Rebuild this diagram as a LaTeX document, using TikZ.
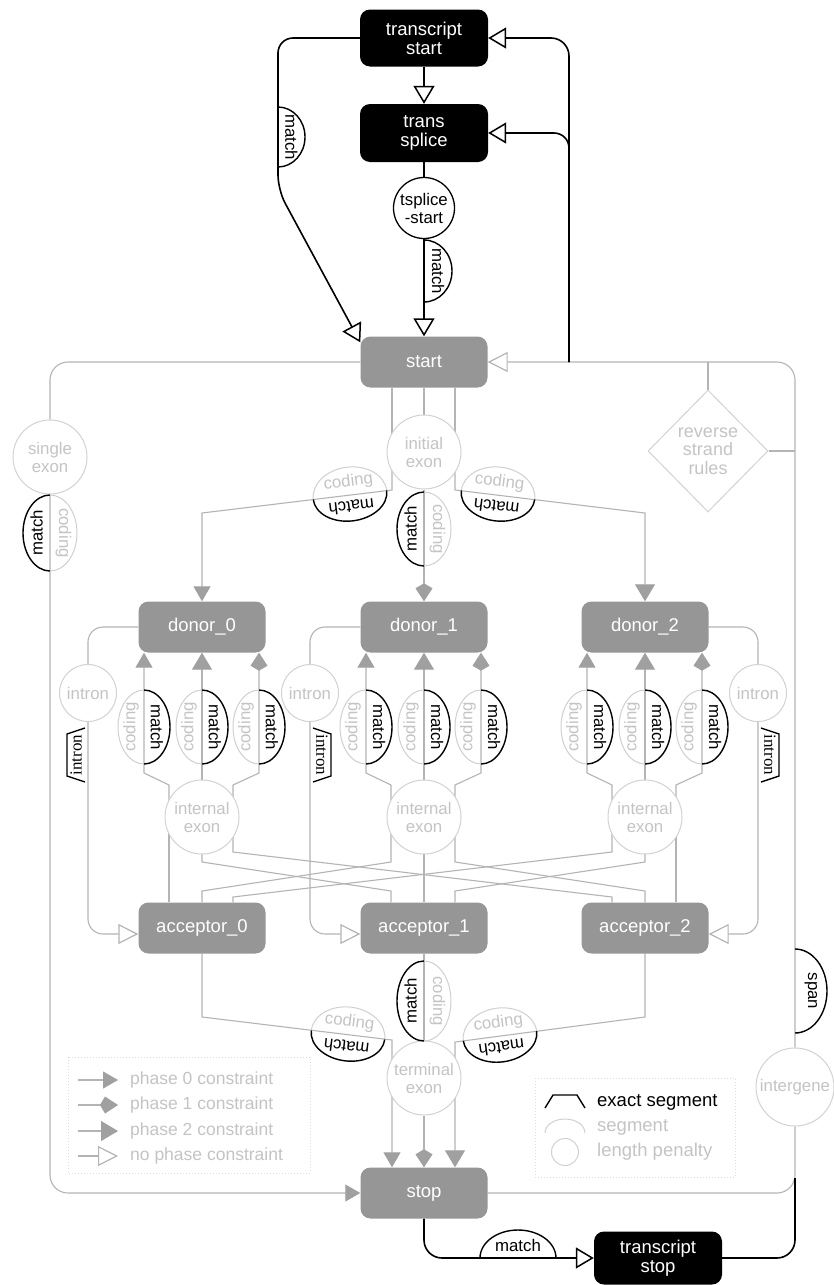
\documentclass[tikz,border=0pt]{standalone}
\usepackage{fontspec}
\setmainfont{Liberation Sans}
\newfontfamily\exfont{Liberation Serif}
\usetikzlibrary{arrows.meta,shapes.geometric,calc}
\pgfdeclarelayer{bg}
\pgfsetlayers{bg,main}
\definecolor{boxgray}{HTML}{969696}
\definecolor{linegray}{HTML}{B4B4B4}
\definecolor{circgray}{HTML}{D2D2D2}
\definecolor{textgray}{HTML}{C4C4C4}
\definecolor{codgray}{HTML}{D0D0D0}
\definecolor{arrowgray}{HTML}{A0A0A0}
\definecolor{leggray}{HTML}{DCDCDC}
\newcommand\boxfont{\fontsize{18.5pt}{19pt}\selectfont}
\newcommand\circfont{\fontsize{16.8pt}{18pt}\selectfont}
\newcommand\diafont{\fontsize{18pt}{18.5pt}\selectfont}
\newcommand\segfont{\fontsize{16.8pt}{17pt}\selectfont}
\newcommand\legfont{\fontsize{17.5pt}{18pt}\selectfont}
\newcommand\exsfont{\exfont\fontsize{17pt}{17pt}\selectfont}
\tikzset{
  phA/.tip={Triangle[length=15pt,width=17pt,color=arrowgray]},
  phB/.tip={Kite[length=18pt,width=17pt,inset=5pt,color=arrowgray]},
  phC/.tip={Triangle[length=17pt,width=20pt,color=arrowgray]},
  opg/.tip={Triangle[open,length=20pt,width=20pt,color=linegray,line width=1.2pt]},
  opb/.tip={Triangle[open,length=18pt,width=21pt,color=black,line width=1.5pt]},
  gl/.style={draw=linegray,line width=1.1pt},
  bl/.style={draw=black,line width=1.6pt},
  graybox/.style={rectangle,rounded corners=10pt,fill=boxgray,text=white,
    minimum width=127pt,minimum height=51pt,inner sep=0pt,font=\boxfont,align=center},
  blackbox/.style={graybox,fill=black,minimum width=128pt,minimum height=57pt},
  gcirc/.style={circle,draw=circgray,line width=1pt,fill=white,text=textgray,
    minimum size=74pt,inner sep=0pt,align=center,font=\circfont},
  matchline/.style={draw=black,line width=1.4pt},
  codline/.style={draw=codgray,line width=1pt},
  matchtext/.style={font=\segfont,text=black,inner sep=0pt},
  codtext/.style={font=\segfont,text=textgray,inner sep=0pt},
  extext/.style={font=\exsfont,text=black,inner sep=0pt},
  legtext/.style={font=\legfont,text=textgray,inner sep=0pt,anchor=west},
}
% arcs: name, x, y, rx, ry, kind, text
\newcommand\arcR[7]{%
  \draw[#6line] (#2,#3-#5) arc[start angle=-90,end angle=90,x radius=#4,y radius=#5];
  \node[#6text,rotate=-90] (#1) at (#2+#4*0.5,#3) {#7};}
\newcommand\arcL[7]{%
  \draw[#6line] (#2,#3+#5) arc[start angle=90,end angle=270,x radius=#4,y radius=#5];
  \node[#6text,rotate=90] (#1) at (#2-#4*0.5,#3) {#7};}
\newcommand\arcU[7]{%
  \draw[#6line] (#2-#4,#3) arc[start angle=180,end angle=360,x radius=#4,y radius=#5];
  \node[#6text] (#1) at (#2,#3-#5*0.46) {#7};}
\newcommand\pairMR[5]{\arcR{#1m}{#2}{#3}{#4}{#5}{match}{match}\arcL{#1c}{#2}{#3}{#4}{#5}{cod}{coding}}
\newcommand\pairML[5]{\arcL{#1m}{#2}{#3}{#4}{#5}{match}{match}\arcR{#1c}{#2}{#3}{#4}{#5}{cod}{coding}}
% tilted horizontal pair: name, x, y, angle
\newcommand\pairH[4]{%
  \begin{scope}[shift={(#2,#3)},rotate=#4]
    \draw[codline] (-37,0) arc[start angle=180,end angle=360,x radius=37,y radius=28];
    \node[codtext,rotate=#4] (#1c) at (0,-13) {coding};
    \draw[matchline] (-37,0) arc[start angle=180,end angle=0,x radius=37,y radius=26];
    \node[matchtext,rotate=#4+180] (#1m) at (0,12) {match};
  \end{scope}}
% exact segments: name, x, y
\newcommand\exR[3]{%
  \draw[matchline] (#2+3,#3-27) -- (#2+21,#3-21) -- (#2+21,#3+21) -- (#2+3,#3+27);
  \node[extext,rotate=-90] (#1) at (#2+12,#3) {intron};}
\newcommand\exL[3]{%
  \draw[matchline] (#2-3,#3-27) -- (#2-21,#3-21) -- (#2-21,#3+21) -- (#2-3,#3+27);
  \node[extext,rotate=90] (#1) at (#2-12,#3) {intron};}

\begin{document}
\begin{tikzpicture}[x=1pt,y=-1pt]
\path[use as bounding box] (0,0) rectangle (833,1285);
\begin{pgfonlayer}{bg}
  \fill[white] (0,0) rectangle (833,1285);
\end{pgfonlayer}

% ---------- nodes ----------
\node[blackbox] (ts) at (424,38) {transcript\\start};
\node[blackbox,minimum height=58pt] (tsp) at (424,133) {trans\\splice};
\node[circle,draw=black,line width=1.3pt,fill=white,minimum size=61pt,inner sep=0pt,
      align=center,font=\circfont] (tss) at (424,208) {tsplice\\-start};
\node[graybox] (start) at (424,362) {start};
\node[gcirc] (se) at (50,457) {single\\exon};
\node[gcirc] (ie) at (424,452) {initial\\exon};
\node[diamond,draw=circgray,line width=1pt,fill=white,minimum width=120pt,minimum height=122pt,
      inner sep=0pt,text=textgray,align=center,font=\diafont] (rs) at (708,451) {reverse\\strand\\rules};
\node[graybox] (d0) at (202,627) {donor\_0};
\node[graybox] (d1) at (424,627) {donor\_1};
\node[graybox] (d2) at (645,627) {donor\_2};
\node[gcirc,minimum size=57pt] (in0) at (88,693) {intron};
\node[gcirc,minimum size=57pt] (in1) at (310,693) {intron};
\node[gcirc,minimum size=57pt] (in2) at (758,693) {intron};
\node[gcirc] (x0) at (202,817) {internal\\exon};
\node[gcirc] (x1) at (424,817) {internal\\exon};
\node[gcirc] (x2) at (645,817) {internal\\exon};
\node[graybox] (a0) at (202,928) {acceptor\_0};
\node[graybox] (a1) at (424,928) {acceptor\_1};
\node[graybox] (a2) at (645,928) {acceptor\_2};
\node[gcirc] (te) at (424,1078) {terminal\\exon};
\node[gcirc,minimum size=78pt] (ig) at (795,1087) {intergene};
\node[graybox] (stop) at (424,1193) {stop};
\node[blackbox,minimum height=53pt] (tst) at (658,1258) {transcript\\stop};
\coordinate (jR) at (569,362);
\coordinate (jB) at (795,1178);

% ---------- connectors ----------
\begin{pgfonlayer}{bg}
  % single exon
  \draw[gl,rounded corners=18pt] (start.west) -| (se.north);
  \draw[gl,rounded corners=18pt,-{phA}] (se.south) |- (stop.west);
  % intergene loop
  \draw[gl,rounded corners=18pt,-{opg}] (ig.north) |- (start.east);
  \draw[gl,rounded corners=18pt] (stop.east) -| (ig.south);
  \draw[gl] (rs.north) -- (rs.north |- start.east);
  \draw[gl] (rs.east) -- (rs.east -| ig.north);
  % start -> initial exon -> donors
  \draw[gl] ([xshift=-32pt]start.south) -- ([xshift=-32pt]ie.center);
  \draw[gl] (start.south) -- (ie.north);
  \draw[gl] ([xshift=31pt]start.south) -- ([xshift=31pt]ie.center);
  \draw[gl,-{phA}] ([xshift=-32pt]ie.center) -- (392,490) -- (202,513) -- (d0.north);
  \draw[gl,-{phB}] (ie.south) -- (d1.north);
  \draw[gl,-{phC}] ([xshift=31pt]ie.center) -- (455,490) -- (645,513) -- (d2.north);
  % internal exons -> donors
  \foreach \i/\cx in {0/202,1/424,2/645}{
    \draw[gl,-{phA}] ([xshift=-33pt]x\i.center) -- (\cx-33,785) -- (\cx-58,773) -- ([xshift=-58pt]d\i.south);
    \draw[gl,-{phC}] (x\i.north) -- (d\i.south);
    \draw[gl,-{phB}] ([xshift=31pt]x\i.center) -- (\cx+31,785) -- (\cx+57,773) -- ([xshift=57pt]d\i.south);
  }
  % acceptors -> internal exons (crossing)
  \foreach \i/\cx/\oi in {0/202/-33,1/424/0,2/645/31}{
    \foreach \j/\ax/\oj in {0/202/-33,1/424/0,2/645/31}{
      \pgfmathtruncatemacro\dd{abs(\i-\j)}
      \pgfmathsetmacro\xe{\cx+(\oj)}
      \pgfmathsetmacro\xa{\ax+(\oi)}
      \pgfmathsetmacro\ye{\dd==2 ? 852 : 862}
      \pgfmathsetmacro\ya{\dd==2 ? 897 : 891}
      \draw[gl] ([xshift=\oj pt]x\i.center) -- (\xe,\ye) -- (\xa,\ya) -- ([xshift=\oi pt]a\j.north);
    }
  }
  % acceptors -> terminal exon -> stop
  \draw[gl,-{phA}] (a0.south) -- (202,1017) -- (392,1040) -- ([xshift=-32pt]stop.north);
  \draw[gl] (a1.south) -- (te.north);
  \draw[gl,-{phB}] (te.south) -- (stop.north);
  \draw[gl,-{phC}] (a2.south) -- (645,1017) -- (455,1042) -- ([xshift=31pt]stop.north);
  % introns
  \draw[gl,rounded corners=15pt] (d0.west) -| (in0.north);
  \draw[gl,rounded corners=15pt,-{opg}] (in0.south) |- ([yshift=-6pt]a0.west);
  \draw[gl,rounded corners=15pt] (d1.west) -| (in1.north);
  \draw[gl,rounded corners=15pt,-{opg}] (in1.south) |- ([yshift=-6pt]a1.west);
  \draw[gl,rounded corners=15pt] (d2.east) -| (in2.north);
  \draw[gl,rounded corners=15pt,-{opg}] (in2.south) |- ([yshift=-6pt]a2.east);
  % black transcript paths
  \draw[bl,-{opb}] (ts.south) -- (tsp.north);
  \draw[bl] (tsp.south) -- (tss.north);
  \draw[bl,-{opb}] (tss.south) -- (start.north);
  \draw[bl,rounded corners=15pt,-{opb}] (ts.west) -| (278,190) -- ([yshift=-6pt]start.north west);
  \draw[bl,rounded corners=18pt,-{opb}] (jR) |- (ts.east);
  \draw[bl,rounded corners=15pt,-{opb}] (jR) |- (tsp.east);
  \draw[bl,rounded corners=18pt,-{opb}] (stop.south) |- (tst.west);
  \draw[bl,rounded corners=18pt] (tst.east) -| (jB);
\end{pgfonlayer}

% ---------- segments ----------
\arcR{mA}{278}{137}{27}{30}{match}{match}
\arcR{mB}{424}{271}{28}{31}{match}{match}
\pairML{sx}{50}{533}{27}{38}
\pairML{ic}{424}{529}{27}{37}
\pairH{il}{350}{495}{7}
\pairH{ir}{498}{495}{-7}
\foreach \cx [count=\k] in {202,424,645}{
  \pairMR{dL\k}{\cx-58}{727}{26}{37}
  \pairMR{dC\k}{\cx}{727}{26}{37}
  \pairMR{dR\k}{\cx+57}{727}{26}{37}
}
\exL{e0}{88}{755}
\exR{e1}{310}{755}
\exR{e2}{758}{755}
\pairML{tc}{424}{1001}{27}{40}
\pairH{tl}{348}{1035}{-7}
\pairH{tr}{500}{1036}{7.5}
\arcR{sp}{795}{991}{32}{42}{match}{span}
\arcU{mC}{518}{1258}{38}{28}{match}{match}

% ---------- legends ----------
\draw[leggray,dotted,line width=1pt] (68,1057) rectangle (310,1173);
\node[legtext] (lp0) at (130,1080) {phase 0 constraint};
\node[legtext] (lp1) at (130,1105) {phase 1 constraint};
\node[legtext] (lp2) at (130,1131) {phase 2 constraint};
\node[legtext] (lp3) at (130,1156) {no phase constraint};
\draw[gl,-{phA}] ([xshift=-52pt]lp0.west) -- ([xshift=-12pt]lp0.west);
\draw[gl,-{phB}] ([xshift=-52pt]lp1.west) -- ([xshift=-12pt]lp1.west);
\draw[gl,-{phC}] ([xshift=-52pt]lp2.west) -- ([xshift=-12pt]lp2.west);
\draw[gl,-{opg}] ([xshift=-52pt]lp3.west) -- ([xshift=-12pt]lp3.west);

\draw[leggray,dotted,line width=1pt] (535,1078) rectangle (735,1177);
\node[legtext,text=black,font=\boxfont] (le) at (597,1102) {exact segment};
\node[legtext,font=\boxfont] (ls) at (597,1127) {segment};
\node[legtext,font=\boxfont] (ll) at (597,1152) {length penalty};
\draw[matchline] ([xshift=-52pt,yshift=-6pt]le.west) -- ++(8,-13) -- ++(24,0) -- ++(8,13);
\draw[codline] ([xshift=-52pt,yshift=-6pt]ls.west) arc[start angle=180,end angle=360,x radius=20,y radius=14];
\node[circle,draw=circgray,line width=1pt,minimum size=27pt,inner sep=0pt] (lc) at ([xshift=-32pt]ll.west) {};
\end{tikzpicture}
\end{document}
